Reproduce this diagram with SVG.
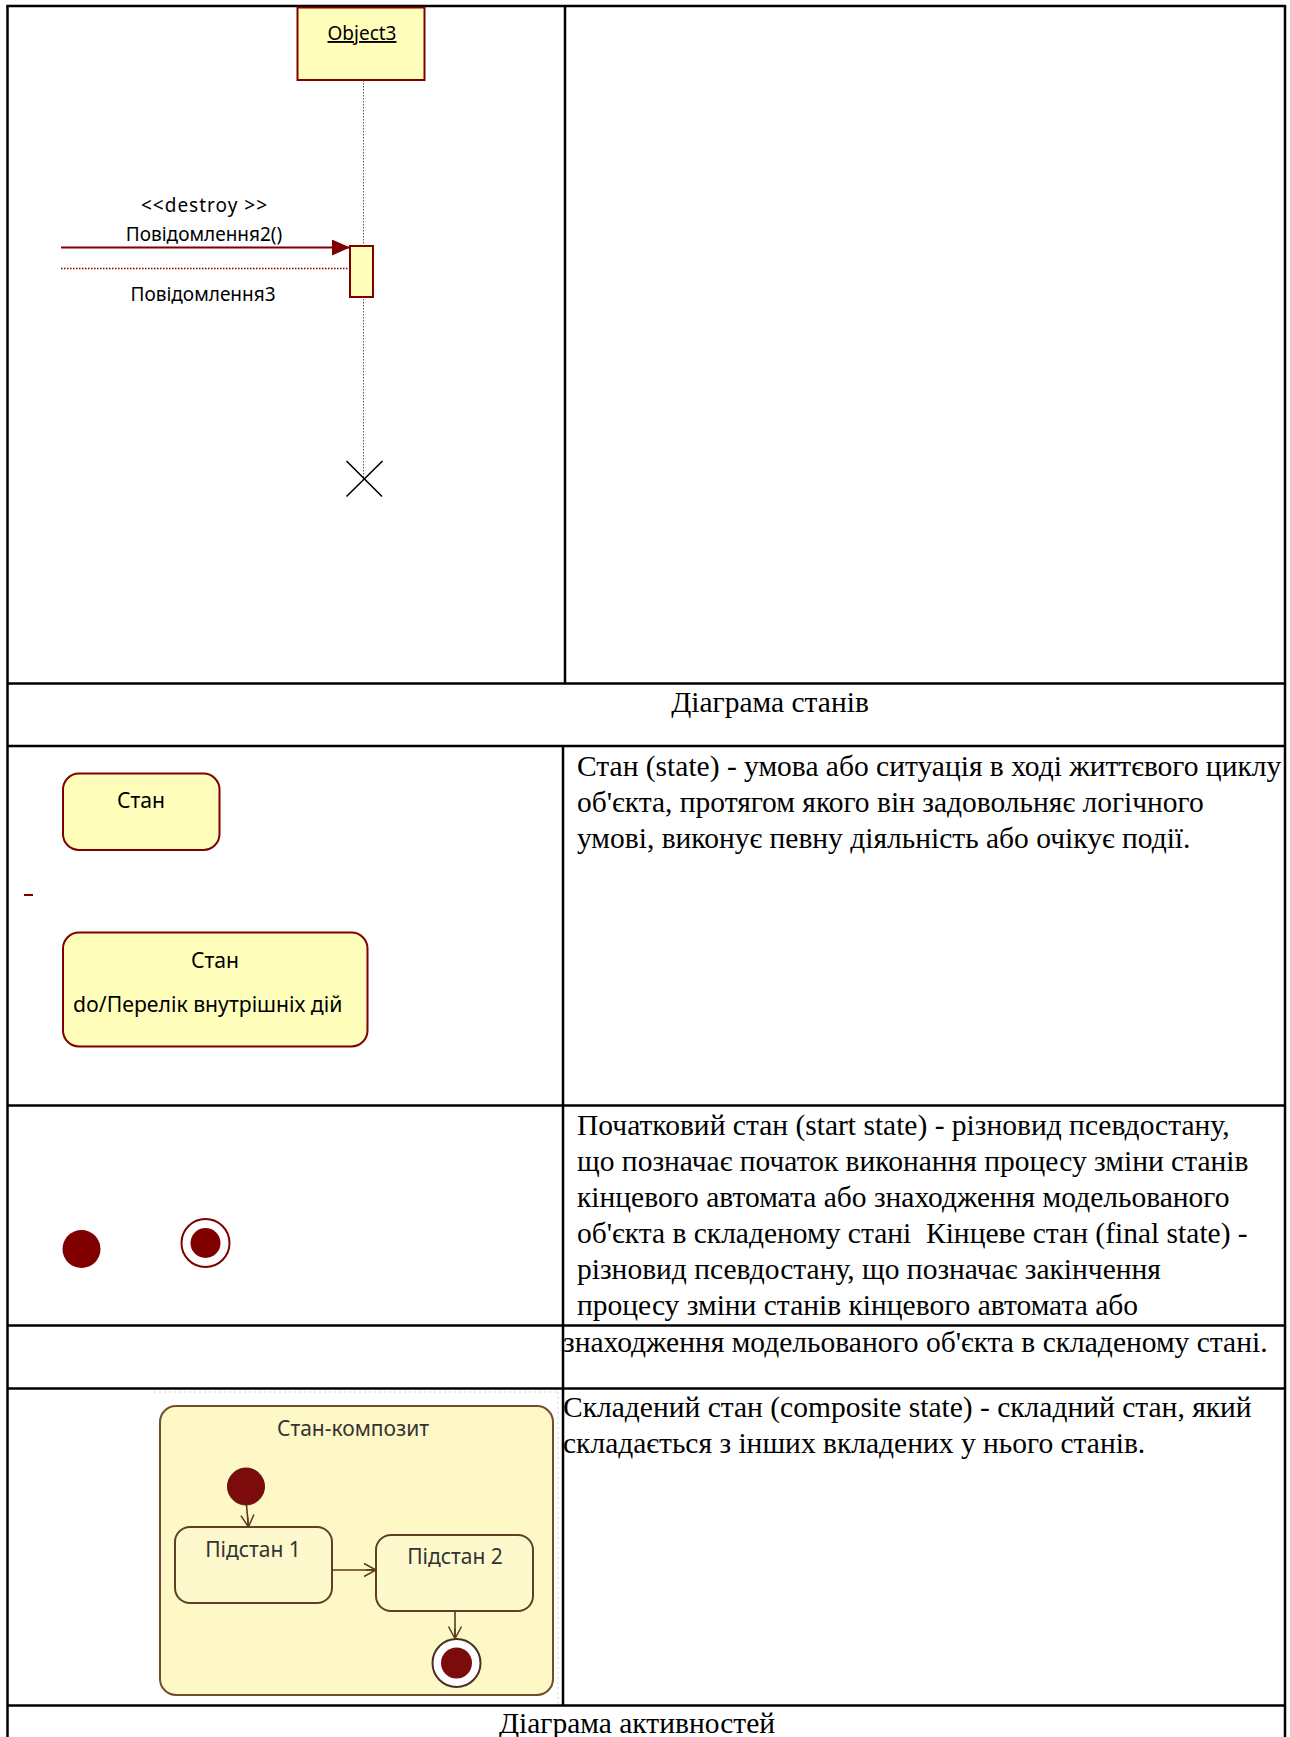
<svg xmlns="http://www.w3.org/2000/svg" width="1290" height="1737" viewBox="0 0 1290 1737">
<defs>
<style>
.grid{stroke:#000;stroke-width:2.5;fill:none}
.tnr{font-family:"Liberation Serif","Times New Roman",serif;font-size:29.5px;fill:#000}
.uml{font-family:"Noto Sans","DejaVu Sans",sans-serif;fill:#000}
.seq{font-size:19px}
.st{font-size:21.2px}
.cmp{font-size:21px;fill:#333}
.ybox{fill:#FFFFBB;stroke:#800000;stroke-width:2}
.cbox{fill:#FDF8C6;stroke:#6e4e2e;stroke-width:2}
.sub{fill:#FDF9CC;stroke:#5e4026;stroke-width:2}
.carrow{stroke:#5a3a1e;stroke-width:1.6;fill:none;marker-end:url(#mOpen)}
</style>
<marker id="mFill" markerWidth="18" markerHeight="16" refX="18" refY="8" orient="auto" markerUnits="userSpaceOnUse"><path d="M0,0 L18,8 L0,16 Z" fill="#800000"/></marker>
<marker id="mOpen" markerWidth="14" markerHeight="16" refX="13" refY="8" orient="auto" markerUnits="userSpaceOnUse"><path d="M1,1.5 L13,8 L1,14.5 M3,8 L13,8" fill="none" stroke="#5a3a1e" stroke-width="1.5"/></marker>
</defs>
<rect width="1290" height="1737" fill="#fff"/>

<g id="table" class="grid">
<line x1="7.5" y1="6" x2="7.5" y2="1737"/>
<line x1="1285" y1="6" x2="1285" y2="1737"/>
<line x1="6.3" y1="6" x2="1286.2" y2="6"/>
<line x1="7.5" y1="683.5" x2="1285" y2="683.5"/>
<line x1="7.5" y1="746" x2="1285" y2="746"/>
<line x1="7.5" y1="1105.5" x2="1285" y2="1105.5"/>
<line x1="7.5" y1="1325.5" x2="1285" y2="1325.5"/>
<line x1="7.5" y1="1388.5" x2="1285" y2="1388.5"/>
<line x1="7.5" y1="1705.5" x2="1285" y2="1705.5"/>
<line x1="565" y1="6" x2="565" y2="683.5"/>
<line x1="563" y1="746" x2="563" y2="1705.5"/>
</g>

<!-- Sequence diagram fragment -->
<g id="object3">
<line x1="363.5" y1="80" x2="363.5" y2="478" stroke="#555" stroke-width="1" stroke-dasharray="1.5,1.5"/>
<rect class="ybox" x="297.5" y="7.5" width="127" height="72.5"/>
<text class="uml seq" x="362" y="40" text-anchor="middle" text-decoration="underline">Object3</text>
</g>
<g id="activation">
<rect class="ybox" x="350" y="246" width="23" height="51"/>
</g>
<g id="destroy-mark" stroke="#000" stroke-width="1.6">
<line x1="346.5" y1="461" x2="382" y2="496.5"/>
<line x1="382.5" y1="461" x2="346.5" y2="496.5"/>
</g>

<g id="message-labels" class="uml seq" text-anchor="middle">
<text x="204" y="212" textLength="126" lengthAdjust="spacing">&lt;&lt;destroy &gt;&gt;</text>
<text x="204" y="240.5">Повідомлення2()</text>
<text x="203" y="300.5">Повідомлення3</text>
</g>

<!-- Row headers -->
<text class="tnr" x="770" y="712" text-anchor="middle">Діаграма станів</text>
<text class="tnr" x="637" y="1733" text-anchor="middle">Діаграма активностей</text>

<!-- State nodes -->
<g id="state-simple">
<rect class="ybox" x="63" y="773.5" width="156.5" height="76.5" rx="16"/>
<text class="uml st" x="141" y="808" text-anchor="middle">Стан</text>
</g>
<line x1="24" y1="895" x2="33" y2="895" stroke="#800000" stroke-width="2"/>
<g id="state-do">
<rect class="ybox" x="63" y="932.5" width="304.5" height="114" rx="16"/>
<text class="uml st" x="215" y="968" text-anchor="middle">Стан</text>
<text class="uml st" x="73" y="1011.5">do/Перелік внутрішніх дій</text>
</g>
<g id="initial-state">
<circle cx="81.5" cy="1249" r="19" fill="#800000"/>
</g>
<g id="final-state">
<circle cx="205.5" cy="1243" r="24" fill="#fff" stroke="#800000" stroke-width="2"/>
<circle cx="205.5" cy="1243" r="15" fill="#800000"/>
</g>

<!-- Composite state picture -->
<g id="picture-edge" stroke="#d4d4d4" stroke-width="1" stroke-dasharray="2,3" fill="none">
<line x1="154" y1="1392" x2="558" y2="1392"/>
<line x1="558" y1="1392" x2="558" y2="1704"/>
</g>
<g id="composite">
<rect class="cbox" x="160" y="1406" width="393" height="289" rx="16"/>
<text class="uml cmp" x="353" y="1436" text-anchor="middle">Стан-композит</text>
</g>
<g id="c-initial">
<circle cx="246" cy="1486.5" r="18.5" fill="#7c0c0c" stroke="#5a1010" stroke-width="1"/>
</g>
<g id="substate1">
<rect class="sub" x="175" y="1527" width="157" height="76" rx="15"/>
<text class="uml cmp" x="253" y="1557" text-anchor="middle">Підстан 1</text>
</g>
<g id="substate2">
<rect class="sub" x="376" y="1535" width="157" height="76" rx="15"/>
<text class="uml cmp" x="455" y="1564" text-anchor="middle">Підстан 2</text>
</g>
<g id="c-final">
<circle cx="456.5" cy="1663" r="24" fill="#fff" stroke="#4a3020" stroke-width="2"/>
<circle cx="456.5" cy="1663" r="15.5" fill="#7c0c0c"/>
</g>

<g id="connectors">
<line x1="61" y1="247.5" x2="350" y2="247.5" stroke="#800000" stroke-width="2" marker-end="url(#mFill)"/>
<line x1="61" y1="268.5" x2="350" y2="268.5" stroke="#800000" stroke-width="1.5" stroke-dasharray="1.5,1.5"/>
<line class="carrow" x1="246.5" y1="1505" x2="248.5" y2="1527"/>
<line class="carrow" x1="332" y1="1570" x2="376" y2="1570"/>
<line class="carrow" x1="455" y1="1611" x2="455" y2="1638.5"/>
</g>

<!-- Descriptions -->
<g id="desc-state" class="tnr">
<text x="577" y="776">Стан (state) - умова або ситуація в ході життєвого циклу</text>
<text x="577" y="812">об'єкта, протягом якого він задовольняє логічного</text>
<text x="577" y="848">умові, виконує певну діяльність або очікує події.</text>
</g>
<g id="desc-start-final" class="tnr">
<text x="577" y="1135">Початковий стан (start state) - різновид псевдостану,</text>
<text x="577" y="1171">що позначає початок виконання процесу зміни станів</text>
<text x="577" y="1207">кінцевого автомата або знаходження модельованого</text>
<text x="577" y="1243" xml:space="preserve">об'єкта в складеному стані  Кінцеве стан (final state) -</text>
<text x="577" y="1279">різновид псевдостану, що позначає закінчення</text>
<text x="577" y="1315">процесу зміни станів кінцевого автомата або</text>
<text x="563" y="1352">знаходження модельованого об'єкта в складеному стані.</text>
</g>
<g id="desc-composite" class="tnr">
<text x="563" y="1417">Складений стан (composite state) - складний стан, який</text>
<text x="563" y="1453">складається з інших вкладених у нього станів.</text>
</g>
</svg>
